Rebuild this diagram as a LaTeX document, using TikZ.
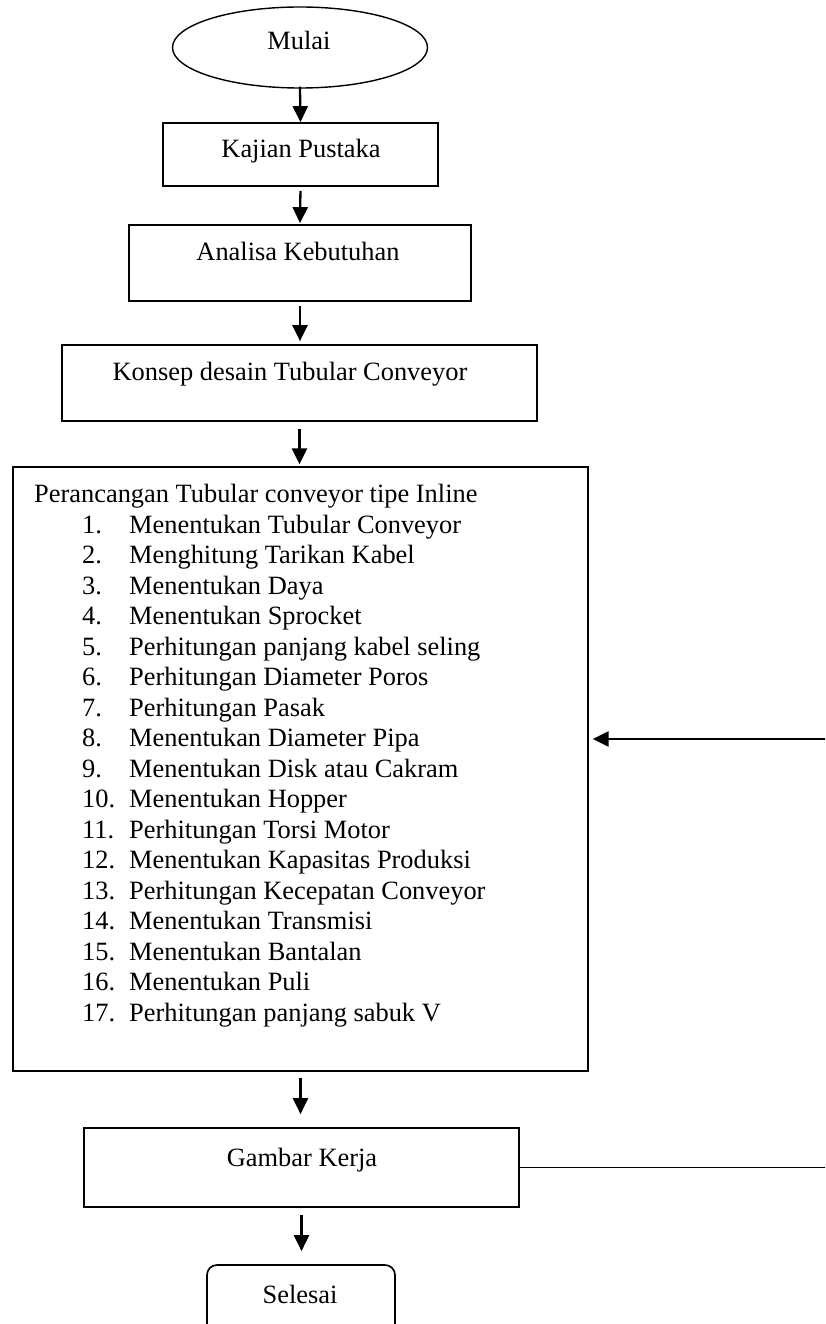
\documentclass[tikz,border=0pt]{standalone}
\usepackage{fontspec}
\setmainfont{Liberation Serif}
\usetikzlibrary{shapes.geometric,arrows.meta}
\tikzset{
  box/.style={draw=black,line width=1.7pt,rectangle,inner sep=0pt},
  bigbox/.style={draw=black,line width=1.3pt,rectangle,inner sep=0pt},
  txt/.style={inner sep=0pt,anchor=base,font=\fontsize{26.4}{30.5}\selectfont},
  ltxt/.style={inner sep=0pt,anchor=base west,font=\fontsize{26.4}{30.5}\selectfont},
  arr/.style={line width=2.3pt,-{Triangle[length=16pt,width=15pt]}},
  thinline/.style={line width=1.2pt}
}
\begin{document}
\begin{tikzpicture}[x=1pt,y=-1pt]
\useasboundingbox (0,0) rectangle (825,1324);
\clip (0,0) rectangle (825,1324);
\fill[white] (0,0) rectangle (825,1324);
% nodes
\node[ellipse,draw=black,line width=1.4pt,minimum width=255pt,minimum height=81pt,inner sep=0pt] (mulai) at (300,47.5) {};
\node[txt] (tmulai) at (299,50) {Mulai};
\node[box,minimum width=275pt,minimum height=63pt] (kajian) at (300.5,154.5) {};
\node[txt] (tkajian) at (301,158) {Kajian Pustaka};
\node[box,minimum width=342pt,minimum height=76pt] (analisa) at (300,263) {};
\node[txt] (tanalisa) at (298,261) {Analisa Kebutuhan};
\node[box,minimum width=475pt,minimum height=76pt] (konsep) at (299.5,383) {};
\node[txt] (tkonsep) at (290,380) {Konsep desain Tubular Conveyor};
\node[bigbox,minimum width=575pt,minimum height=604pt] (big) at (300.5,769) {};
\node[ltxt] (title) at (34,502) {Perancangan Tubular conveyor tipe Inline};
\foreach \i/\t in {1/Menentukan Tubular Conveyor,2/Menghitung Tarikan Kabel,3/Menentukan Daya,4/Menentukan Sprocket,5/Perhitungan panjang kabel seling,6/Perhitungan Diameter Poros,7/Perhitungan Pasak,8/Menentukan Diameter Pipa,9/Menentukan Disk atau Cakram,10/Menentukan Hopper,11/Perhitungan Torsi Motor,12/Menentukan Kapasitas Produksi,13/Perhitungan Kecepatan Conveyor,14/Menentukan Transmisi,15/Menentukan Bantalan,16/Menentukan Puli,17/Perhitungan panjang sabuk V}{
  \pgfmathsetmacro{\yy}{533+(\i-1)*30.5}
  \node[ltxt] (num\i) at (82,\yy) {\i.};
  \node[ltxt] (item\i) at (129,\yy) {\t};
}
\node[box,minimum width=435pt,minimum height=79pt] (gambar) at (301.5,1167.5) {};
\node[txt] (tgambar) at (302,1166) {Gambar Kerja};
\node[box,rounded corners=10pt,minimum width=188pt,minimum height=80pt] (selesai) at (301,1305) {};
\node[txt] (tselesai) at (300,1303) {Selesai};
% connectors
\draw[arr,shorten <=-2pt] (mulai.south) -- (kajian.north);
\draw[arr,shorten <=4pt,shorten >=1pt] (kajian.south) -- (analisa.north);
\draw[arr,shorten <=4pt,shorten >=3pt] (analisa.south) -- (analisa.south |- konsep.north);
\draw[arr,shorten <=7pt,shorten >=2pt] (konsep.south) -- (konsep.south |- big.north);
\draw[arr,shorten <=6pt,shorten >=13pt] (big.south) -- (big.south |- gambar.north);
\draw[arr,shorten <=7pt,shorten >=13pt] (gambar.south) -- (gambar.south |- selesai.north);
% feedback loop
\coordinate (fr) at (835,1167.5);
\coordinate (fu) at (835,739);
\draw[thinline] (gambar.east) -- (fr) -- (fu);
\draw[arr,shorten >=4pt] (fu) -- (big.east |- fu);
\end{tikzpicture}
\end{document}
